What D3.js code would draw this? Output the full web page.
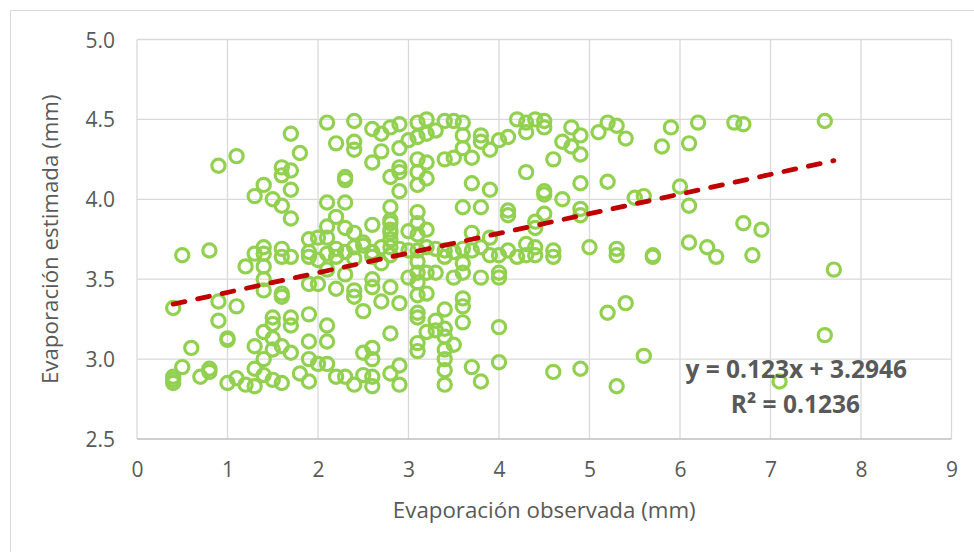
<!DOCTYPE html>
<html>
<head>
<meta charset="utf-8">
<script src="https://cdn.jsdelivr.net/npm/d3@7"></script>
<style>
  html, body { margin: 0; padding: 0; background: #ffffff; }
  svg { display: block; }
  text { font-family: "Open Sans", "Noto Sans", sans-serif; }
</style>
</head>
<body>
<div id="chart"></div>
<script>
// ---------------- data ----------------
const xTicks = [0, 1, 2, 3, 4, 5, 6, 7, 8, 9];
const yTicks = [2.5, 3.0, 3.5, 4.0, 4.5, 5.0];
const xTitle = "Evaporación observada (mm)";
const yTitle = "Evaporación estimada (mm)";
const trendSlope = 0.123;
const trendIntercept = 3.2946;
const eqLabel = "y = 0.123x + 3.2946";
const r2Label = "R² = 0.1236";

// observed evaporation (x) and estimated evaporation (y), paired by index
const obsX = [
  0.4,0.4,0.4,0.4,0.5,0.5,0.6,0.8,0.9,1.1,
  0.7,0.8,0.8,0.9,1.1,0.9,1.0,1.0,1.0,1.1,
  1.2,1.3,1.3,1.4,1.4,1.3,1.4,1.5,1.5,1.5,
  1.5,1.5,1.6,1.6,1.7,1.7,1.7,1.6,1.6,1.4,
  1.4,1.9,1.9,1.9,1.9,1.8,2.0,2.1,2.1,2.1,
  2.2,1.9,2.0,2.2,2.1,1.7,1.8,2.2,1.6,1.7,
  1.6,1.7,1.4,1.3,1.5,1.6,1.7,2.1,2.2,2.1,
  2.1,1.9,2.0,1.9,2.1,2.2,1.4,1.3,1.4,1.6,
  1.6,1.7,1.2,1.4,1.9,2.0,
  2.4,2.6,2.7,2.8,2.9,3.1,3.2,3.4,3.5,3.6,
  4.2,4.3,4.4,2.4,2.4,2.7,2.6,2.9,3.0,3.1,
  3.2,3.3,3.6,3.6,3.8,3.8,3.9,4.0,4.1,4.3,
  3.4,3.5,3.7,3.1,3.1,3.2,2.9,2.9,2.8,3.1,
  3.2,2.3,2.3,2.9,2.6,2.8,3.1,2.3,2.8,2.8,
  3.0,3.2,2.8,3.7,3.9,4.3,3.6,3.8,4.1,4.1,
  2.4,2.5,
  4.5,4.5,4.8,4.7,4.9,4.8,4.9,4.6,5.1,5.2,
  5.3,5.4,5.9,5.8,6.2,6.1,6.6,4.9,5.2,4.5,
  4.5,4.7,5.5,5.6,6.0,6.1,4.9,4.9,4.5,4.4,
  4.4,4.4,4.4,4.6,4.6,5.0,5.3,5.3,5.7,5.7,
  6.1,6.3,6.4,6.7,
  6.7,7.6,6.9,6.8,7.7,7.6,7.1,
  5.2,5.4,5.6,4.6,4.9,5.3,
  2.3,2.4,2.4,2.6,2.6,2.5,2.7,2.8,2.9,3.0,
  3.1,3.2,3.1,3.1,3.1,3.3,3.5,3.6,3.8,4.0,
  4.0,3.4,3.3,3.6,3.6,3.6,3.2,3.3,3.4,3.4,
  3.5,3.1,3.1,3.4,3.4,3.4,3.4,3.7,3.8,4.0,
  4.0,2.8,2.5,2.6,2.6,2.3,2.4,2.5,2.6,2.6,
  2.8,2.9,2.9,
  2.2,2.3,2.4,2.4,2.5,2.6,2.6,2.7,2.7,2.8,
  2.9,3.0,3.1,3.1,3.1,3.2,3.3,3.4,3.4,3.5,
  3.6,3.6,3.7,3.8,3.9,3.9,4.0,4.1,4.2,4.3,
  4.3,2.1,3.2,2.8,2.8,3.1,3.1,3.7,2.3,2.8
];
const estY = [
  3.32,2.89,2.87,2.85,3.65,2.95,3.07,3.68,4.21,4.27,
  2.89,2.94,2.92,3.36,3.33,3.24,3.13,3.12,2.85,2.88,
  2.84,2.83,2.94,3.00,2.90,3.08,3.17,3.26,3.22,3.13,
  3.06,2.87,2.85,3.08,3.26,3.21,3.04,3.41,3.39,3.50,
  3.43,3.28,3.11,3.00,2.86,2.91,2.97,3.21,3.11,2.97,
  2.89,3.47,3.47,3.44,4.48,4.41,4.29,4.35,4.20,4.18,
  4.15,4.06,4.09,4.02,4.00,3.96,3.88,3.98,3.89,3.83,
  3.76,3.75,3.76,3.67,3.66,3.64,3.70,3.66,3.66,3.69,
  3.64,3.64,3.58,3.58,3.64,3.62,
  4.49,4.44,4.41,4.45,4.47,4.48,4.50,4.49,4.49,4.48,
  4.50,4.48,4.50,4.36,4.31,4.30,4.23,4.32,4.37,4.39,
  4.41,4.43,4.40,4.32,4.40,4.36,4.31,4.37,4.39,4.42,
  4.25,4.26,4.26,4.25,4.17,4.23,4.20,4.17,4.14,4.09,
  4.13,4.14,4.12,4.05,3.84,3.95,3.92,3.98,3.85,3.81,
  3.80,3.81,3.75,4.10,4.06,4.17,3.95,3.95,3.93,3.90,
  3.79,3.73,
  4.49,4.45,4.45,4.36,4.40,4.33,4.28,4.25,4.42,4.48,
  4.46,4.38,4.45,4.33,4.48,4.35,4.48,4.10,4.11,4.05,
  4.03,4.00,4.01,4.02,4.08,3.96,3.94,3.90,3.91,3.86,
  3.82,3.70,3.65,3.68,3.64,3.70,3.69,3.65,3.65,3.64,
  3.73,3.70,3.64,3.85,
  4.47,4.49,3.81,3.65,3.56,3.15,2.86,
  3.29,3.35,3.02,2.92,2.94,2.83,
  3.53,3.43,3.39,3.50,3.45,3.30,3.36,3.45,3.35,3.51,
  3.40,3.41,3.29,3.26,3.48,3.54,3.51,3.54,3.51,3.54,
  3.51,3.31,3.24,3.38,3.33,3.23,3.17,3.18,3.19,3.14,
  3.09,3.10,3.05,3.06,3.00,2.93,2.84,2.95,2.86,3.20,
  2.98,3.16,3.04,3.07,3.00,2.89,2.84,2.90,2.89,2.83,
  2.91,2.96,2.84,
  3.69,3.67,3.70,3.63,3.71,3.67,3.64,3.70,3.60,3.70,
  3.69,3.68,3.68,3.61,3.54,3.70,3.69,3.68,3.64,3.67,
  3.69,3.60,3.68,3.70,3.76,3.65,3.65,3.68,3.64,3.72,
  3.65,3.56,3.54,3.87,3.79,3.85,3.78,3.79,3.82,3.65
];

// ---------------- chart ----------------
const W = 974, H = 552;
const plot = { left: 137, right: 951.5, top: 39.5, bottom: 439 };

const svg = d3.select("#chart").append("svg")
  .attr("width", W).attr("height", H);

svg.append("rect")
  .attr("width", W).attr("height", H).attr("fill", "#ffffff");

// outer chart border (only top/left visible in frame)
svg.append("rect")
  .attr("x", 10.5).attr("y", 10.5)
  .attr("width", W + 20).attr("height", H + 20)
  .attr("fill", "none").attr("stroke", "#d9d9d9").attr("stroke-width", 1);

const x = d3.scaleLinear().domain([0, 9]).range([plot.left, plot.right]);
const y = d3.scaleLinear().domain([2.5, 5.0]).range([plot.bottom, plot.top]);

// gridlines
const grid = svg.append("g");
grid.selectAll("line.v").data(xTicks).enter().append("line")
  .attr("x1", d => x(d)).attr("x2", d => x(d))
  .attr("y1", plot.top).attr("y2", plot.bottom)
  .attr("stroke", "#d9d9d9").attr("stroke-width", 1.3);
grid.selectAll("line.h").data(yTicks).enter().append("line")
  .attr("x1", plot.left).attr("x2", plot.right)
  .attr("y1", d => y(d)).attr("y2", d => y(d))
  .attr("stroke", d => d === 2.5 ? "#bfbfbf" : "#d9d9d9")
  .attr("stroke-width", 1.3);

// axes (labels only)
const xAxis = d3.axisBottom(x).tickValues(xTicks).tickFormat(d3.format("d")).tickSize(0).tickPadding(0);
const gx = svg.append("g").attr("transform", `translate(0,${plot.bottom})`).call(xAxis);
gx.select(".domain").remove();
gx.selectAll("text")
  .attr("y", 38).attr("dy", 0)
  .attr("font-size", 21).attr("fill", "#595959")
  .style("font-family", '"Open Sans", sans-serif');

const yAxis = d3.axisLeft(y).tickValues(yTicks).tickFormat(d3.format(".1f")).tickSize(0).tickPadding(0);
const gy = svg.append("g").attr("transform", `translate(${plot.left - 22},0)`).call(yAxis);
gy.select(".domain").remove();
gy.selectAll("text")
  .attr("x", 0).attr("dy", "0.36em")
  .attr("font-size", 21).attr("fill", "#595959")
  .style("font-family", '"Open Sans", sans-serif');

// axis titles
svg.append("text")
  .attr("x", (plot.left + plot.right) / 2).attr("y", 518)
  .attr("text-anchor", "middle")
  .attr("font-size", 22.3).attr("fill", "#595959")
  .text(xTitle);

svg.append("text")
  .attr("transform", `translate(58,${(plot.top + plot.bottom) / 2}) rotate(-90)`)
  .attr("text-anchor", "middle")
  .attr("font-size", 22.3).attr("fill", "#595959")
  .text(yTitle);

// points
const pts = obsX.map((v, i) => ({ x: v, y: estY[i] }));
svg.append("g").selectAll("circle").data(pts).enter().append("circle")
  .attr("cx", d => x(d.x)).attr("cy", d => y(d.y))
  .attr("r", 6.6)
  .attr("fill", "none")
  .attr("stroke", "#92d050")
  .attr("stroke-width", 3.2);

// trendline
const xMin = d3.min(obsX), xMax = d3.max(obsX);
const trend = [xMin, xMax].map(v => ({ x: v, y: trendSlope * v + trendIntercept }));
svg.append("path")
  .datum(trend)
  .attr("d", d3.line().x(d => x(d.x)).y(d => y(d.y)))
  .attr("fill", "none")
  .attr("stroke", "#c00000")
  .attr("stroke-width", 4.8)
  .attr("stroke-linecap", "round")
  .attr("stroke-dasharray", "12,13");

// equation labels
svg.append("text")
  .attr("x", 907).attr("y", 378)
  .attr("text-anchor", "end")
  .attr("font-size", 24.5).attr("font-weight", "bold").attr("fill", "#595959")
  .text(eqLabel);
svg.append("text")
  .attr("x", 860).attr("y", 413)
  .attr("text-anchor", "end")
  .attr("font-size", 24.5).attr("font-weight", "bold").attr("fill", "#595959")
  .text(r2Label);
</script>
</body>
</html>
